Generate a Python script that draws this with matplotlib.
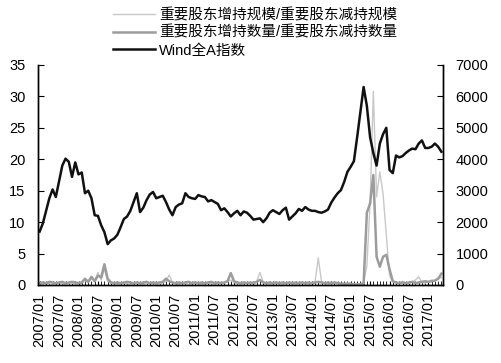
import numpy as np
import matplotlib
matplotlib.use('Agg')
import matplotlib.pyplot as plt

plt.rcParams['font.family'] = ['Liberation Sans', 'Noto Sans CJK SC', 'DejaVu Sans']
plt.rcParams['font.size'] = 10.5

# x tick labels, every 6 months from 2007/01
tick_labels = ['2007/01', '2007/07', '2008/01', '2008/07', '2009/01', '2009/07',
               '2010/01', '2010/07', '2011/01', '2011/07', '2012/01', '2012/07',
               '2013/01', '2013/07', '2014/01', '2014/07', '2015/01', '2015/07',
               '2016/01', '2016/07', '2017/01']

# 重要股东增持规模/重要股东减持规模 (monthly, 2007/01 - 2017/05)
scale_ratio = [
    0.2, 0.1, 0.3, 0.2, 0.1, 0.2, 0.4, 0.2, 0.1, 0.2, 0.3, 0.1,
    0.2, 0.3, 0.8, 0.4, 1.0, 0.6, 2.0, 0.8, 2.5, 0.6, 0.3, 0.2,
    0.1, 0.2, 0.3, 0.2, 0.1, 0.2, 0.3, 0.2, 0.1, 0.2, 0.3, 0.2,
    0.1, 0.2, 0.3, 0.6, 1.6, 0.4, 0.2, 0.1, 0.3, 0.2, 0.1, 0.2,
    0.3, 0.2, 0.1, 0.2, 0.3, 0.2, 0.1, 0.2, 0.4, 0.3, 0.5, 0.8,
    0.4, 0.2, 0.1, 0.2, 0.3, 0.2, 0.4, 0.6, 2.0, 0.5, 0.2, 0.1,
    0.2, 0.3, 0.2, 0.1, 0.2, 0.3, 0.2, 0.1, 0.2, 0.3, 0.2, 0.1,
    0.3, 0.5, 4.3, 0.6, 0.2, 0.1, 0.2, 0.3, 0.2, 0.1, 0.2, 0.3,
    0.2, 0.1, 0.1, 0.2, 0.5, 3.0, 13.0, 30.8, 14.0, 18.0, 14.5, 8.0,
    1.5, 0.5, 0.3, 0.2, 0.6, 0.3, 0.2, 0.5, 0.8, 1.3, 0.4, 0.3,
    0.5, 0.8, 0.6, 1.0, 1.2]

# 重要股东增持数量/重要股东减持数量
count_ratio = [
    0.3, 0.4, 0.3, 0.5, 0.4, 0.3, 0.4, 0.5, 0.3, 0.4, 0.5, 0.4,
    0.3, 0.4, 1.0, 0.5, 1.3, 0.6, 1.5, 1.2, 3.3, 1.0, 0.4, 0.3,
    0.4, 0.3, 0.4, 0.5, 0.4, 0.3, 0.4, 0.3, 0.4, 0.5, 0.3, 0.4,
    0.3, 0.4, 0.5, 1.0, 0.6, 0.4, 0.3, 0.4, 0.3, 0.4, 0.5, 0.3,
    0.4, 0.3, 0.4, 0.3, 0.4, 0.5, 0.3, 0.4, 0.3, 0.4, 0.6, 1.9,
    0.6, 0.4, 0.3, 0.4, 0.3, 0.4, 0.3, 0.5, 0.8, 0.4, 0.3, 0.4,
    0.3, 0.4, 0.3, 0.4, 0.3, 0.4, 0.3, 0.4, 0.3, 0.4, 0.3, 0.4,
    0.3, 0.4, 0.5, 0.4, 0.3, 0.4, 0.3, 0.4, 0.3, 0.2, 0.2, 0.2,
    0.2, 0.1, 0.1, 0.1, 0.2, 11.5, 13.0, 17.5, 4.5, 2.9, 4.5, 4.8,
    2.5, 0.6, 0.4, 0.3, 0.4, 0.3, 0.4, 0.5, 0.3, 0.4, 0.5, 0.6,
    0.5, 0.6, 0.7, 1.0, 1.8]

# Wind全A指数 (right axis)
wind_a = [
    1700, 1960, 2360, 2760, 3040, 2800, 3300, 3800, 4020, 3920, 3440, 3900,
    3520, 3580, 2920, 3000, 2760, 2220, 2200, 1900, 1680, 1300, 1420, 1480,
    1600, 1840, 2100, 2180, 2360, 2640, 2920, 2320, 2460, 2700, 2880, 2960,
    2760, 2800, 2840, 2640, 2400, 2220, 2480, 2560, 2600, 2920, 2800, 2760,
    2740, 2860, 2820, 2800, 2660, 2700, 2640, 2580, 2380, 2440, 2320, 2180,
    2280, 2360, 2220, 2340, 2300, 2200, 2080, 2100, 2120, 2000, 2120, 2300,
    2380, 2320, 2260, 2380, 2460, 2080, 2180, 2280, 2420, 2360, 2480, 2400,
    2360, 2360, 2320, 2300, 2340, 2400, 2620, 2780, 2920, 3020, 3280, 3600,
    3760, 3940, 4700, 5500, 6300, 5700, 4700, 4200, 3800, 4500, 4800, 5000,
    3660, 3560, 4120, 4060, 4100, 4200, 4280, 4340, 4320, 4500, 4600, 4360,
    4360, 4400, 4500, 4400, 4240]

x = np.arange(len(wind_a))

fig = plt.figure(figsize=(5.01, 3.63), dpi=100)
ax = fig.add_axes([38 / 501, 1 - 285 / 363, (443 - 38) / 501, 220 / 363])
ax2 = ax.twinx()

l1, = ax.plot(x, scale_ratio, color='#c8c8c8', lw=1.0)
l2, = ax.plot(x, count_ratio, color='#9c9c9c', lw=1.8)
l3, = ax2.plot(x, wind_a, color='#111111', lw=1.8)

ax.set_xlim(-0.5, len(x) - 0.5)
ax.set_ylim(0, 35)
ax.set_yticks(np.arange(0, 36, 5))
ax2.set_ylim(0, 7000)
ax2.set_yticks(np.arange(0, 7001, 1000))

ax.set_xticks(np.arange(0, len(x), 6))
ax.set_xticklabels(tick_labels, rotation=90)
ax.set_xticks(x, minor=True)
ax.tick_params(axis='x', which='both', direction='in', length=3, pad=6)
ax.tick_params(axis='y', direction='in', length=4, pad=9)
ax2.tick_params(axis='y', direction='in', length=4, pad=9)

for a in (ax, ax2):
    a.spines['top'].set_visible(False)
    for s in ('left', 'right', 'bottom'):
        a.spines[s].set_linewidth(1.0)

fig.legend([l1, l2, l3],
           ['重要股东增持规模/重要股东减持规模', '重要股东增持数量/重要股东减持数量', 'Wind全A指数'],
           loc='upper left', bbox_to_anchor=(113 / 501, 1 - 8 / 363), frameon=False,
           borderpad=0, borderaxespad=0, handlelength=2.9, handletextpad=0.25,
           labelspacing=0.25, fontsize=10.5)

fig.savefig('out.png', dpi=100)
